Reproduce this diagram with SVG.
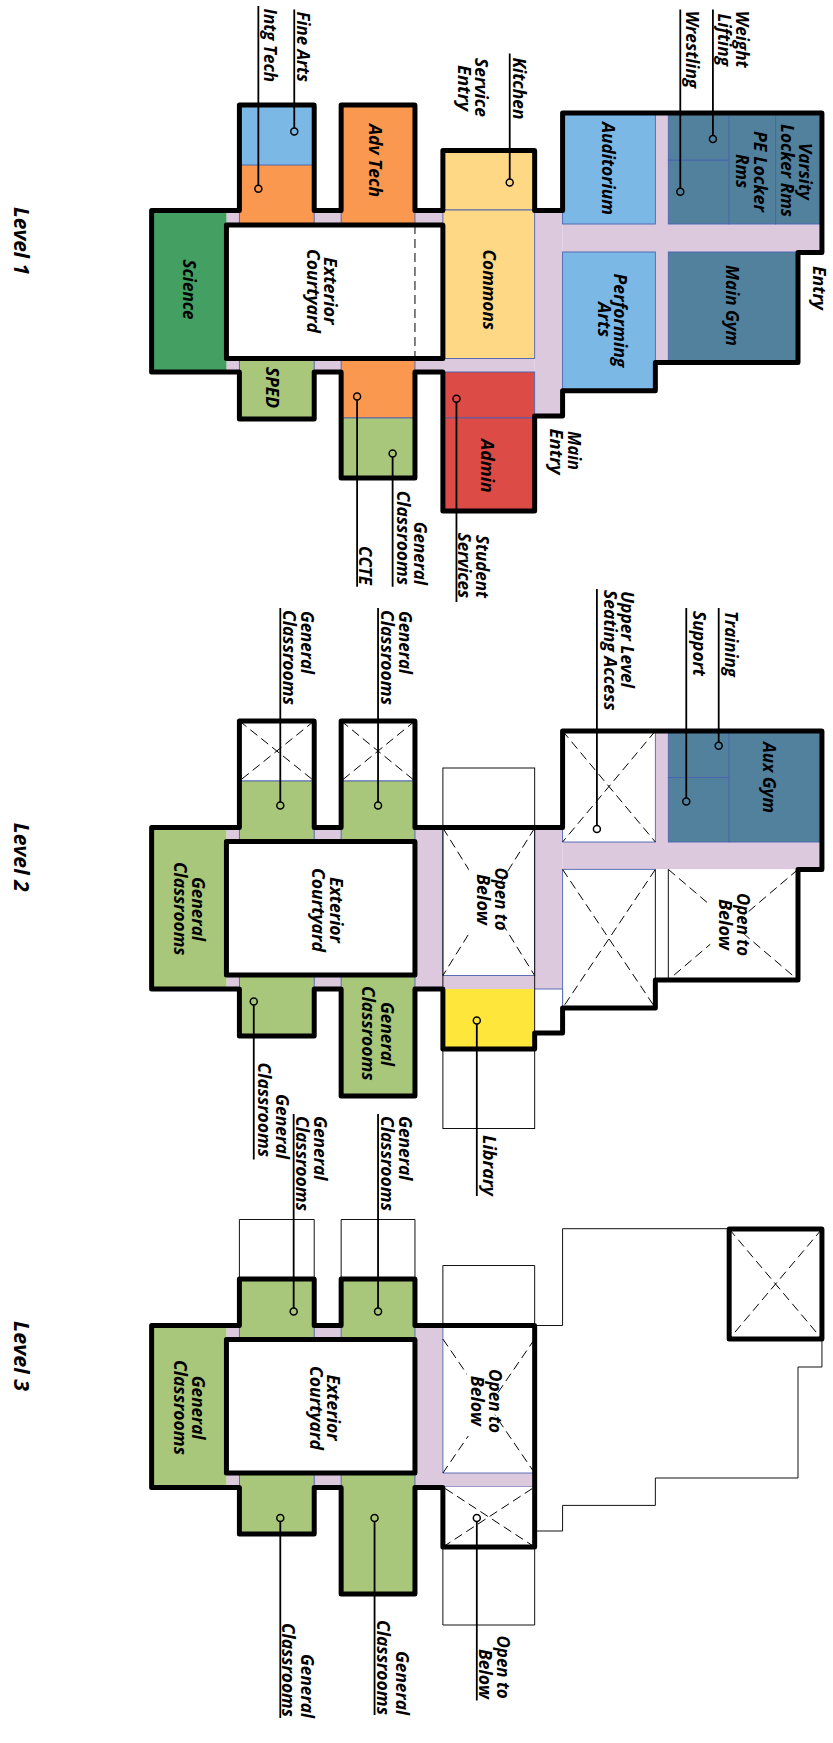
<svg xmlns="http://www.w3.org/2000/svg" width="833" height="1743" viewBox="0 0 833 1743">
<style>
text{font-family:"Open Sans","Noto Sans","DejaVu Sans",sans-serif;font-weight:700;font-style:italic;font-size:18px;fill:#000}
.lv{font-size:21px}
.r{stroke:#4a62b0;stroke-width:.9}
.sci{fill:#43a062}.blu{fill:#7cb8e6}.org{fill:#f9984e}.grn{fill:#a8c77a}.kit{fill:#ffd886}.red{fill:#dc4b46}.gym{fill:#52819e}.lil{fill:#ddc9de;stroke:none}.yel{fill:#ffe63b}.wht{fill:#fff}
.wall{fill:none;stroke:#000;stroke-width:5;stroke-linejoin:round}
.thin{fill:none;stroke:#111;stroke-width:1}
.blue{fill:none;stroke:#4a62b0;stroke-width:.9}
.dash{fill:none;stroke:#000;stroke-width:1;stroke-dasharray:9 5}
.lead{fill:none;stroke:#000;stroke-width:1.8}
</style>
<g transform="scale(.9975 1)">
<g id="level-1">
<g id="l1-corridor"><rect class="lil" x="227" y="210" width="217" height="163"/><rect class="lil" x="536" y="210" width="28" height="206"/><rect class="lil" x="564" y="224" width="260" height="28"/><rect class="lil" x="657" y="113" width="13" height="250"/><rect class="lil" x="416" y="358" width="120" height="14"/></g>
<g id="l1-science"><rect class="sci" x="152" y="210" width="75" height="162"/><text transform="translate(183 259.5) rotate(90)" textLength="60" lengthAdjust="spacingAndGlyphs">Science</text></g>
<g id="l1-fine-arts"><rect class="blu" x="240" y="105" width="75" height="60"/></g>
<g id="l1-intg-tech"><rect class="org r" x="240" y="165" width="75" height="60"/></g>
<g id="l1-adv-tech"><rect class="org r" x="342" y="105" width="74" height="120"/><text transform="translate(370 124) rotate(90)" textLength="73" lengthAdjust="spacingAndGlyphs">Adv Tech</text></g>
<g id="l1-kitchen"><rect class="kit r" x="444" y="150" width="92" height="60"/></g>
<g id="l1-commons"><rect class="kit r" x="444" y="210" width="92" height="148.500"/><text transform="translate(484 249.500) rotate(90)" textLength="80.500" lengthAdjust="spacingAndGlyphs">Commons</text></g>
<g id="l1-auditorium"><rect class="blu r" x="564" y="113" width="93" height="111"/><text transform="translate(604 122) rotate(90)" textLength="93" lengthAdjust="spacingAndGlyphs">Auditorium</text></g>
<g id="l1-performing-arts"><rect class="blu r" x="564" y="252" width="93" height="139"/><text transform="translate(616 273.600) rotate(90)" textLength="93.800" lengthAdjust="spacingAndGlyphs">Performing</text><text transform="translate(599 302) rotate(90)" textLength="35" lengthAdjust="spacingAndGlyphs">Arts</text></g>
<g id="l1-wrestling"><rect class="gym r" x="670" y="160" width="61" height="64"/></g>
<g id="l1-weight-lifting"><rect class="gym r" x="670" y="113" width="61" height="47"/></g>
<g id="l1-pe-locker"><rect class="gym r" x="731" y="113" width="46.600" height="111"/><text transform="translate(756 131) rotate(90)" textLength="81" lengthAdjust="spacingAndGlyphs">PE Locker</text><text transform="translate(738 154) rotate(90)" textLength="34" lengthAdjust="spacingAndGlyphs">Rms</text></g>
<g id="l1-varsity-locker"><rect class="gym r" x="777.600" y="113" width="46.400" height="111"/><text transform="translate(801 143) rotate(90)" textLength="57" lengthAdjust="spacingAndGlyphs">Varsity</text><text transform="translate(783 124) rotate(90)" textLength="93" lengthAdjust="spacingAndGlyphs">Locker Rms</text></g>
<g id="l1-main-gym"><rect class="gym r" x="670" y="252" width="130" height="110"/><text transform="translate(728 265) rotate(90)" textLength="81" lengthAdjust="spacingAndGlyphs">Main Gym</text></g>
<g id="l1-sped"><rect class="grn r" x="240" y="358" width="75" height="61"/><text transform="translate(266.700 367) rotate(90)" textLength="41" lengthAdjust="spacingAndGlyphs">SPED</text></g>
<g id="l1-ccte"><rect class="org r" x="342" y="358" width="74" height="60"/></g>
<g id="l1-general-classrooms"><rect class="grn r" x="342" y="418" width="74" height="60"/></g>
<g id="l1-student-services"><rect class="red r" x="444" y="372" width="92" height="46"/></g>
<g id="l1-admin"><rect class="red r" x="444" y="418" width="92" height="93"/><text transform="translate(482.700 439) rotate(90)" textLength="53.700" lengthAdjust="spacingAndGlyphs">Admin</text></g>
<g id="l1-courtyard"><rect class="wht" x="227" y="225" width="217" height="133.600"/><text transform="translate(325 257) rotate(90)" textLength="67.500" lengthAdjust="spacingAndGlyphs">Exterior</text><text transform="translate(308 249) rotate(90)" textLength="84" lengthAdjust="spacingAndGlyphs">Courtyard</text></g>
<path class="dash" d="M416 225V358"/>
<path class="wall" d="M152 210.500H240V105H315V210.500H342V105H416V210.500H444V150.500H536V210.500H564V113H824V252.600H800V362.400H657V390.700H564V416H536V511H444V372H416V478H342V372H315V419H240V372H152Z"/>
<rect class="wall" x="227" y="225" width="217" height="133.600"/>
</g>
<g id="level-2">
<g id="l2-corridor"><rect class="lil" x="227" y="828" width="189" height="161"/><rect class="lil" x="416" y="828" width="148" height="161"/><rect class="lil" x="564" y="842" width="260" height="27.400"/><rect class="lil" x="657" y="731" width="13" height="111"/></g>
<g id="l2-classrooms-a"><rect class="wht r" x="240" y="721" width="75" height="60"/><path class="dash" d="M240 721L315 781M315 721L240 781"/><rect class="grn r" x="240" y="781" width="75" height="61"/></g>
<g id="l2-classrooms-b"><rect class="wht r" x="342" y="721" width="74" height="60"/><path class="dash" d="M342 721L416 781M416 721L342 781"/><rect class="grn r" x="342" y="781" width="74" height="61"/></g>
<g id="l2-classrooms-left"><rect class="grn" x="152" y="828" width="75" height="161"/><text transform="translate(192 877) rotate(90)" textLength="64" lengthAdjust="spacingAndGlyphs">General</text><text transform="translate(174 862) rotate(90)" textLength="93.500" lengthAdjust="spacingAndGlyphs">Classrooms</text></g>
<g id="l2-classrooms-c"><rect class="grn r" x="240" y="975" width="75" height="61"/></g>
<g id="l2-classrooms-d"><rect class="grn r" x="342" y="975" width="74" height="121"/><text transform="translate(381.500 1002) rotate(90)" textLength="64" lengthAdjust="spacingAndGlyphs">General</text><text transform="translate(363 986) rotate(90)" textLength="94.600" lengthAdjust="spacingAndGlyphs">Classrooms</text></g>
<g id="l2-upper-seating"><rect class="wht r" x="564" y="731" width="93" height="111"/><path class="dash" d="M564 731L657 842M657 731L564 842"/></g>
<g id="l2-training"><rect class="gym r" x="670" y="731" width="61" height="46.500"/></g>
<g id="l2-support"><rect class="gym r" x="670" y="777.500" width="61" height="64.500"/></g>
<g id="l2-aux-gym"><rect class="gym r" x="731" y="731" width="93" height="111"/><text transform="translate(765 742) rotate(90)" textLength="71" lengthAdjust="spacingAndGlyphs">Aux Gym</text></g>
<g id="l2-open-mid"><rect class="wht r" x="444" y="828" width="92" height="147.500"/><path class="dash" d="M444 828L536 975.500M536 828L444 975.500"/><rect class="wht" x="470" y="866" width="32" height="66"/><text transform="translate(496 867.500) rotate(90)" textLength="63" lengthAdjust="spacingAndGlyphs">Open to</text><text transform="translate(478.500 874) rotate(90)" textLength="51" lengthAdjust="spacingAndGlyphs">Below</text></g>
<g id="l2-open-lower"><rect class="wht" x="564" y="869.400" width="93" height="138.600"/><path class="blue" d="M564 1008V869.400H657"/><path class="dash" d="M564 869.400L657 1008M657 869.400L564 1008"/></g>
<g id="l2-open-right"><rect class="wht" x="657" y="869.400" width="143" height="110.600"/><path class="thin" d="M657 869.400V980M670 869.400V980"/><path class="dash" d="M670 869.400L800 980M800 869.400L670 980"/><rect class="wht" x="712" y="890" width="34" height="68"/><text transform="translate(739 893) rotate(90)" textLength="63" lengthAdjust="spacingAndGlyphs">Open to</text><text transform="translate(721 899) rotate(90)" textLength="51" lengthAdjust="spacingAndGlyphs">Below</text></g>
<g id="l2-library"><path class="yel" d="M444 989H536V1033H536V1049H444Z"/><rect class="wht" x="536" y="989" width="28" height="44"/><path class="blue" d="M536 989H564V1008"/></g>
<g id="l2-courtyard"><rect class="wht" x="227" y="841.500" width="189" height="133.500"/><text transform="translate(331 877) rotate(90)" textLength="66" lengthAdjust="spacingAndGlyphs">Exterior</text><text transform="translate(313 868) rotate(90)" textLength="84" lengthAdjust="spacingAndGlyphs">Courtyard</text></g>
<rect class="thin" x="444" y="768" width="92" height="360.500"/>
<path class="wall" d="M152 827.600H240V721H315V827.600H342V721H416V827.600H564V731H824V869.400H800V980H657V1008H564V1033H536V1049H444V989H416V1096H342V989H315V1036H240V989H152Z"/>
<rect class="wall" x="227" y="841.500" width="189" height="133.500"/>
</g>
<g id="level-3">
<g id="l3-corridor"><rect class="lil" x="227" y="1325" width="189" height="162"/><rect class="lil" x="416" y="1325" width="28" height="162"/><rect class="lil" x="444" y="1473" width="92" height="14"/></g>
<g id="l3-classrooms-a"><rect class="grn r" x="240" y="1279" width="75" height="61"/></g>
<g id="l3-classrooms-b"><rect class="grn r" x="342" y="1279" width="74" height="61"/></g>
<g id="l3-classrooms-left"><rect class="grn" x="152" y="1325" width="75" height="162"/><text transform="translate(192 1375.700) rotate(90)" textLength="64" lengthAdjust="spacingAndGlyphs">General</text><text transform="translate(174 1360) rotate(90)" textLength="95" lengthAdjust="spacingAndGlyphs">Classrooms</text></g>
<g id="l3-classrooms-c"><rect class="grn r" x="240" y="1473" width="75" height="61"/></g>
<g id="l3-classrooms-d"><rect class="grn r" x="342" y="1473" width="74" height="121"/></g>
<g id="l3-open-mid"><rect class="wht" x="444" y="1325" width="92" height="148"/><path class="blue" d="M444 1325V1473H536M444 1487H536"/><path class="dash" d="M444 1339L536 1473M536 1339L444 1473"/><rect class="wht" x="468" y="1366" width="28" height="70"/><text transform="translate(490 1369) rotate(90)" textLength="64" lengthAdjust="spacingAndGlyphs">Open to</text><text transform="translate(472.500 1375.700) rotate(90)" textLength="50.300" lengthAdjust="spacingAndGlyphs">Below</text></g>
<g id="l3-open-lower"><rect class="wht" x="444" y="1487" width="92" height="60"/><path class="dash" d="M444 1547L536 1487M536 1547L444 1487"/></g>
<g id="l3-courtyard"><rect class="wht" x="227" y="1339.500" width="189" height="133.500"/><text transform="translate(328 1374.500) rotate(90)" textLength="66.200" lengthAdjust="spacingAndGlyphs">Exterior</text><text transform="translate(310.500 1366) rotate(90)" textLength="84" lengthAdjust="spacingAndGlyphs">Courtyard</text></g>
<g id="l3-roof-box"><rect class="wht" x="731" y="1229" width="93" height="110"/><path class="dash" d="M731 1229L824 1339M824 1229L731 1339"/></g>
<path class="thin" d="M240 1279V1219.500H315V1279M342 1279V1219.500H416V1279"/>
<path class="thin" d="M444 1325V1265.500H536V1325M444 1547V1625H536V1547"/>
<path class="thin" d="M731 1228.700H564V1325.500H536M824 1339V1367H800V1478H657V1505.400H564V1531H536"/>
<path class="wall" d="M152 1325.500H240V1279H315V1325.500H342V1279H416V1325.500H536V1547H444V1487.400H416V1594H342V1487.400H315V1534H240V1487.400H152Z"/>
<rect class="wall" x="227" y="1339.500" width="189" height="133.500"/>
<rect class="wall" x="731" y="1229" width="93" height="110"/>
</g>
<g id="connectors">
<path class="lead" d="M295 9.500V128M259 6V185M511 53.600V179M714.700 9.600V135.500M682 9.600V188M358 400V586.700M393.600 457V586.700M457.600 402.300V602"/>
<path class="lead" d="M598.400 589V825.500M720.500 608V742.300M688 608V798M281 608V802M379 608V802M254.400 1005V1159.500M294.400 1114V1308M379 1114V1308M478 1024V1196"/>
<path class="lead" d="M281 1521.500V1718M375.500 1521.500V1715M478 1521.500V1700.600"/>
<g fill="none" stroke="#000" stroke-width="1.500">
<circle cx="295" cy="131.600" r="3.500"/><circle cx="259" cy="188.700" r="3.500"/><circle cx="511" cy="182.500" r="3.500"/><circle cx="714.700" cy="139" r="3.500"/><circle cx="682" cy="191.700" r="3.500"/><circle cx="358" cy="396.500" r="3.500"/><circle cx="393.600" cy="453.500" r="3.500"/><circle cx="457.600" cy="398.800" r="3.500"/>
<circle cx="598.400" cy="829" r="3.500"/><circle cx="720.500" cy="745.800" r="3.500"/><circle cx="688" cy="801.600" r="3.500"/><circle cx="281" cy="805.500" r="3.500"/><circle cx="379" cy="805.500" r="3.500"/><circle cx="254.400" cy="1001.400" r="3.500"/><circle cx="294.400" cy="1311.400" r="3.500"/><circle cx="379" cy="1311.400" r="3.500"/><circle cx="478" cy="1020.500" r="3.500"/>
<circle cx="281" cy="1518" r="3.500"/><circle cx="375.500" cy="1518" r="3.500"/><circle cx="478" cy="1518" r="3.500"/>
</g>
</g>
<g id="labels" transform="translate(1.500 0)">
<text class="lv" transform="translate(13 207) rotate(90)" textLength="68" lengthAdjust="spacingAndGlyphs">Level 1</text>
<text class="lv" transform="translate(13 822.700) rotate(90)" textLength="69" lengthAdjust="spacingAndGlyphs">Level 2</text>
<text class="lv" transform="translate(13 1321) rotate(90)" textLength="70" lengthAdjust="spacingAndGlyphs">Level 3</text>
<text transform="translate(296 11.500) rotate(90)" textLength="70.500" lengthAdjust="spacingAndGlyphs">Fine Arts</text>
<text transform="translate(263 8.500) rotate(90)" textLength="73.500" lengthAdjust="spacingAndGlyphs">Intg Tech</text>
<text transform="translate(513 57.400) rotate(90)" textLength="62" lengthAdjust="spacingAndGlyphs">Kitchen</text>
<text transform="translate(475 58) rotate(90)" textLength="59" lengthAdjust="spacingAndGlyphs">Service</text>
<text transform="translate(458 65) rotate(90)" textLength="46" lengthAdjust="spacingAndGlyphs">Entry</text>
<text transform="translate(736 10.700) rotate(90)" textLength="57" lengthAdjust="spacingAndGlyphs">Weight</text>
<text transform="translate(718 13.500) rotate(90)" textLength="52.500" lengthAdjust="spacingAndGlyphs">Lifting</text>
<text transform="translate(686 10.700) rotate(90)" textLength="77.500" lengthAdjust="spacingAndGlyphs">Wrestling</text>
<text transform="translate(814 266) rotate(90)" textLength="44" lengthAdjust="spacingAndGlyphs">Entry</text>
<text transform="translate(568 431) rotate(90)" textLength="39" lengthAdjust="spacingAndGlyphs">Main</text>
<text transform="translate(550 428.600) rotate(90)" textLength="46" lengthAdjust="spacingAndGlyphs">Entry</text>
<text transform="translate(358.500 546) rotate(90)" textLength="39" lengthAdjust="spacingAndGlyphs">CCTE</text>
<text transform="translate(414 521.700) rotate(90)" textLength="63.300" lengthAdjust="spacingAndGlyphs">General</text>
<text transform="translate(396 490.700) rotate(90)" textLength="94.300" lengthAdjust="spacingAndGlyphs">Classrooms</text>
<text transform="translate(476 535) rotate(90)" textLength="63" lengthAdjust="spacingAndGlyphs">Student</text>
<text transform="translate(458 532.700) rotate(90)" textLength="65.300" lengthAdjust="spacingAndGlyphs">Services</text>
<text transform="translate(300.500 611) rotate(90)" textLength="63" lengthAdjust="spacingAndGlyphs">General</text>
<text transform="translate(282 610) rotate(90)" textLength="95" lengthAdjust="spacingAndGlyphs">Classrooms</text>
<text transform="translate(398 611) rotate(90)" textLength="63" lengthAdjust="spacingAndGlyphs">General</text>
<text transform="translate(380 610) rotate(90)" textLength="95" lengthAdjust="spacingAndGlyphs">Classrooms</text>
<text transform="translate(621.500 591) rotate(90)" textLength="97" lengthAdjust="spacingAndGlyphs">Upper Level</text>
<text transform="translate(604 590) rotate(90)" textLength="120.500" lengthAdjust="spacingAndGlyphs">Seating Access</text>
<text transform="translate(725.500 611) rotate(90)" textLength="66" lengthAdjust="spacingAndGlyphs">Training</text>
<text transform="translate(693.500 611) rotate(90)" textLength="65" lengthAdjust="spacingAndGlyphs">Support</text>
<text transform="translate(275 1094) rotate(90)" textLength="65" lengthAdjust="spacingAndGlyphs">General</text>
<text transform="translate(257 1062.600) rotate(90)" textLength="94.400" lengthAdjust="spacingAndGlyphs">Classrooms</text>
<text transform="translate(313 1116) rotate(90)" textLength="64.500" lengthAdjust="spacingAndGlyphs">General</text>
<text transform="translate(295.500 1116) rotate(90)" textLength="95" lengthAdjust="spacingAndGlyphs">Classrooms</text>
<text transform="translate(398 1116) rotate(90)" textLength="64.500" lengthAdjust="spacingAndGlyphs">General</text>
<text transform="translate(380 1116) rotate(90)" textLength="95" lengthAdjust="spacingAndGlyphs">Classrooms</text>
<text transform="translate(483 1135) rotate(90)" textLength="61" lengthAdjust="spacingAndGlyphs">Library</text>
<text transform="translate(300 1654) rotate(90)" textLength="64" lengthAdjust="spacingAndGlyphs">General</text>
<text transform="translate(281.500 1623) rotate(90)" textLength="94" lengthAdjust="spacingAndGlyphs">Classrooms</text>
<text transform="translate(395.500 1651) rotate(90)" textLength="64" lengthAdjust="spacingAndGlyphs">General</text>
<text transform="translate(376 1620) rotate(90)" textLength="95" lengthAdjust="spacingAndGlyphs">Classrooms</text>
<text transform="translate(497 1635.500) rotate(90)" textLength="63.200" lengthAdjust="spacingAndGlyphs">Open to</text>
<text transform="translate(479 1649) rotate(90)" textLength="49.700" lengthAdjust="spacingAndGlyphs">Below</text>
</g>
</g>
</svg>
